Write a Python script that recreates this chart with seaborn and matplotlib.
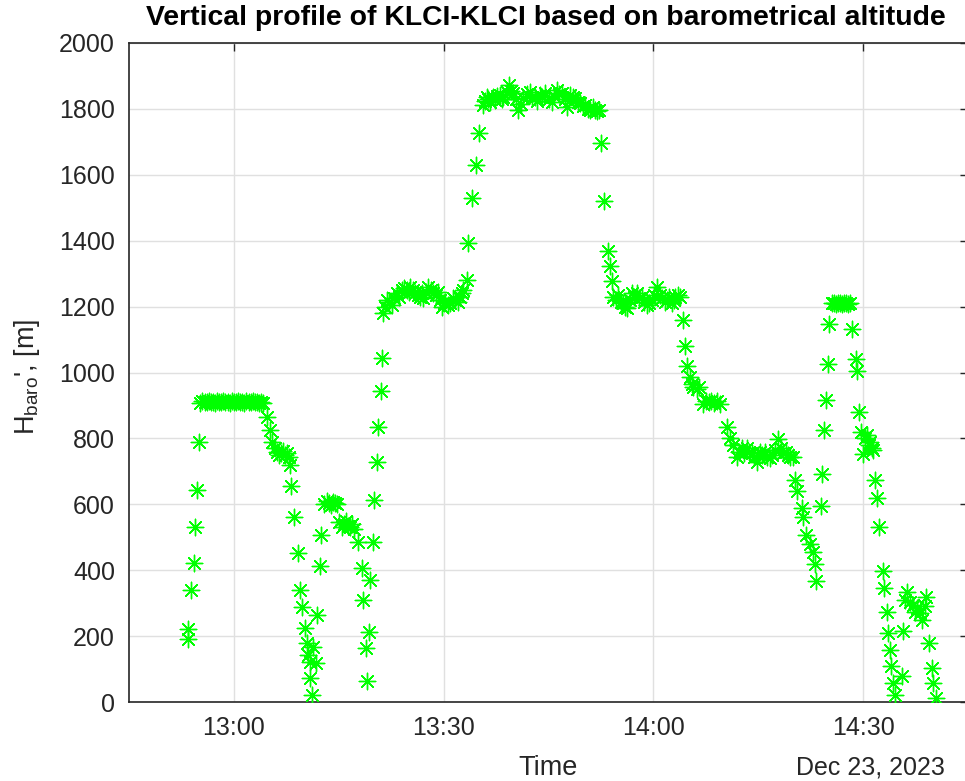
import numpy as np
import pandas as pd
import matplotlib
matplotlib.use("Agg")
import matplotlib.pyplot as plt
import matplotlib.dates as mdates
import seaborn as sns

# minutes after 12:45:00 on Dec 23, 2023
minutes = [
    8.40, 8.50, 8.87, 9.26, 9.44, 9.77, 9.97,
    10.2, 10.5, 10.8, 11.1, 11.4, 11.7, 12.0, 12.3, 12.6, 12.9, 13.2, 13.5, 13.8, 14.1, 14.4, 14.7,
    15.0, 15.3, 15.6, 15.9, 16.2, 16.5, 16.8, 17.1, 17.4, 17.7, 18.0, 18.3, 18.6, 18.9, 19.2,
    19.70, 20.17, 20.42, 20.85, 21.13, 21.40, 21.70, 22.00, 22.30, 22.60, 22.90, 23.00, 23.20,
    23.56, 24.13, 24.46, 24.79, 25.22, 25.42, 25.65, 25.89, 25.95, 26.22, 26.37, 26.75, 26.94,
    27.32, 27.47, 27.9, 28.3, 28.6, 28.9, 29.2, 29.5, 29.8,
    30.1, 30.4, 30.7, 31.0, 31.3, 31.6, 31.9, 32.2,
    32.80, 33.33, 33.52, 33.86, 34.09, 34.38, 34.48, 34.95, 35.05, 35.44, 35.62, 36.01, 36.19,
    36.38, 36.6, 36.87, 37.2, 37.58, 37.9, 38.30, 38.6, 39.01, 39.4, 39.73, 40.0, 40.20, 40.6,
    40.92, 41.3, 41.63, 41.9, 42.10, 42.5, 42.82, 43.2, 43.53, 43.9, 44.25, 44.5, 44.73, 45.0,
    45.21, 45.6, 45.92, 46.3, 46.64, 47.0, 47.35, 47.6, 47.83, 48.31, 48.55, 49.11, 49.64,
    50.12, 50.69,
    50.9, 51.17, 51.4, 51.65, 52.0, 52.36, 52.7, 53.08, 53.3, 53.55, 54.0, 54.41, 54.7, 54.98,
    55.3, 55.70, 56.1, 56.41, 56.9, 57.37, 57.7, 58.08, 58.4, 58.80, 59.1, 59.51, 60.0, 60.47,
    60.8, 61.19, 61.5, 61.90, 62.3, 62.62, 62.9, 63.09, 63.5, 63.81, 64.2, 64.52, 64.9, 65.24,
    65.6, 65.95, 66.3, 66.67, 67.0, 67.2,
    67.5, 68.0, 68.48, 68.81, 69.06,
    69.29, 69.6, 70.0, 70.4, 70.72, 71.0, 71.2, 71.6, 71.92, 72.3, 72.63, 73.0, 73.35, 73.7,
    74.06, 74.4, 74.78, 75.1, 75.49, 75.9, 76.21, 76.6, 76.92, 77.3, 77.64, 77.9, 78.11, 78.5,
    78.83,
    79.21, 79.54, 79.87, 80.26, 80.5, 80.73, 81.2, 81.59,
    82.1, 82.5, 82.9, 83.3, 83.7, 84.1, 84.5,
    85.51, 85.98, 86.45,
    87.0, 87.3, 87.65, 88.0, 88.37, 88.7, 89.08, 89.4, 89.80, 90.0, 90.27, 90.6, 90.99, 91.3,
    91.70, 92.0, 92.4, 92.89, 93.2, 93.61, 94.0, 94.3, 94.56, 95.04,
    95.28, 95.52, 96.24, 96.47, 96.85, 97.42, 97.9, 98.14, 98.24,
    99.0, 99.18, 99.47, 99.71, 100.04, 100.19,
    100.5, 100.8, 101.1, 101.4, 101.7, 102.0, 102.3, 102.6, 102.9, 103.1,
    103.48, 103.94, 104.1, 104.48, 104.68, 104.97, 105.2, 105.54, 105.8, 106.02, 106.2, 106.48,
    106.72, 106.97, 107.34, 107.83, 108.01, 108.4, 108.54, 108.87, 109.01, 109.34, 109.59,
    110.55, 110.77, 110.92, 111.26, 111.73, 112.2, 112.44, 112.68, 113.16, 113.4, 113.88, 114.02,
    114.49, 114.83, 115.06, 115.45,
]

h_baro = [
    221, 190, 340, 421, 530, 643, 790,
    908, 912, 910, 909, 913, 910, 911, 908, 912, 910, 909, 912, 910, 911, 908, 913,
    910, 909, 912, 910, 911, 908, 912, 910, 909, 912, 910, 911, 908, 910, 906,
    866, 825, 790, 770, 760, 750, 757, 762, 750, 755, 745, 720, 656,
    562, 451, 340, 287, 224, 178, 143, 122, 72, 21, 168, 117, 264,
    414, 507, 600, 610, 605, 598, 608, 603, 600,
    545, 530, 540, 548, 535, 530, 540, 525,
    486, 408, 310, 163, 65, 213, 370, 486, 613, 729, 835, 944, 1045,
    1180, 1200, 1220, 1215, 1205, 1225, 1240, 1230, 1250, 1255, 1250, 1245, 1260, 1250,
    1240, 1235, 1230, 1240, 1225, 1245, 1260, 1250, 1240, 1235, 1245, 1220, 1200, 1210,
    1215, 1205, 1210, 1225, 1220, 1215, 1230, 1240, 1250, 1281, 1394, 1530, 1630,
    1728, 1812,
    1825, 1837, 1830, 1822, 1835, 1827, 1840, 1842, 1830, 1837, 1850, 1872, 1855, 1847,
    1830, 1797, 1815, 1832, 1845, 1852, 1835, 1837, 1825, 1842, 1835, 1847, 1830, 1822,
    1840, 1857, 1845, 1847, 1830, 1807, 1825, 1842, 1835, 1832, 1820, 1817, 1810, 1812,
    1800, 1797, 1805, 1797, 1795, 1797,
    1695, 1521, 1370, 1324, 1279,
    1230, 1220, 1235, 1215, 1210, 1200, 1195, 1220, 1240, 1230, 1240, 1225, 1230, 1215,
    1205, 1210, 1220, 1235, 1258, 1235, 1225, 1215, 1220, 1230, 1210, 1220, 1230, 1235,
    1230,
    1159, 1080, 1021, 987, 965, 957, 950, 957,
    905, 912, 910, 915, 908, 912, 905,
    835, 800, 780,
    745, 760, 770, 755, 770, 760, 755, 745, 729, 750, 760, 750, 760, 745,
    740, 750, 765, 797, 770, 755, 760, 750, 745, 745,
    674, 641, 590, 560, 507, 481, 454, 419, 368,
    596, 691, 826, 917, 1025, 1147,
    1210, 1212, 1208, 1210, 1212, 1208, 1210, 1211, 1209, 1210,
    1131, 1041, 1005, 879, 820, 753, 800, 810, 780, 790, 770, 765,
    674, 620, 530, 398, 345, 272, 208, 158, 110, 57, 21,
    80, 215, 310, 335, 304, 294, 274, 284, 269, 249, 290, 320,
    178, 102, 57, 11,
]

y_ticks = [0, 200, 400, 600, 800, 1000, 1200, 1400, 1600, 1800, 2000]
x_tick_labels = ["13:00", "13:30", "14:00", "14:30"]
start = pd.Timestamp("2023-12-23 12:45:00")
end = pd.Timestamp("2023-12-23 14:45:00")

df = pd.DataFrame({
    "Time": start + pd.to_timedelta(minutes, unit="min"),
    "H": h_baro,
})

sns.set_style("white")
plt.rcParams["font.family"] = ["Liberation Sans", "DejaVu Sans"]
plt.rcParams["mathtext.fontset"] = "custom"
plt.rcParams["mathtext.rm"] = "Liberation Sans"
plt.rcParams["mathtext.it"] = "Liberation Sans"

fig = plt.figure(figsize=(9.65, 7.81), dpi=100)
ax = fig.add_axes([129 / 965, 79 / 781, (968 - 129) / 965, (702 - 43) / 781])

sns.scatterplot(data=df, x="Time", y="H", ax=ax, marker=(8, 2, 0), s=140,
                color="#00ff00", edgecolor="#00ff00", linewidth=1.0, legend=False,
                zorder=3)

ax.set_xlim(start, end)
ax.set_ylim(0, 2000)
ax.set_yticks(y_ticks)
tick_times = [pd.Timestamp("2023-12-23 " + t) for t in x_tick_labels]
ax.set_xticks(tick_times)
ax.set_xticklabels(x_tick_labels)

ax.grid(True, color="#e0e0e0", linewidth=1.0, zorder=0)
ax.set_axisbelow(True)
for sp in ax.spines.values():
    sp.set_color("#262626")
    sp.set_linewidth(1.2)
    sp.set_visible(True)
ax.tick_params(direction="in", length=6, width=1.0, colors="#262626",
               labelsize=18, top=True, right=True, pad=10)
for lab in ax.get_xticklabels() + ax.get_yticklabels():
    lab.set_color("#262626")

ax.set_xlabel("")
ax.set_ylabel("")
fig.text(548 / 965, (781 - 768) / 781, "Time", ha="center", va="center",
         fontsize=19.5, color="#262626")
fig.text(945 / 965, (781 - 767) / 781, "Dec 23, 2023", ha="right", va="center",
         fontsize=18, color="#262626")
fig.text(27 / 965, (781 - 377) / 781, "H$_{\\rm baro}$', [m]", ha="center", va="center",
         rotation=90, fontsize=19.5, color="#262626")
fig.text(546 / 965, (781 - 18) / 781,
         "Vertical profile of KLCI-KLCI based on barometrical altitude",
         ha="center", va="center", fontsize=20.4, fontweight="bold", color="black")

fig.savefig("out.png", dpi=100)
